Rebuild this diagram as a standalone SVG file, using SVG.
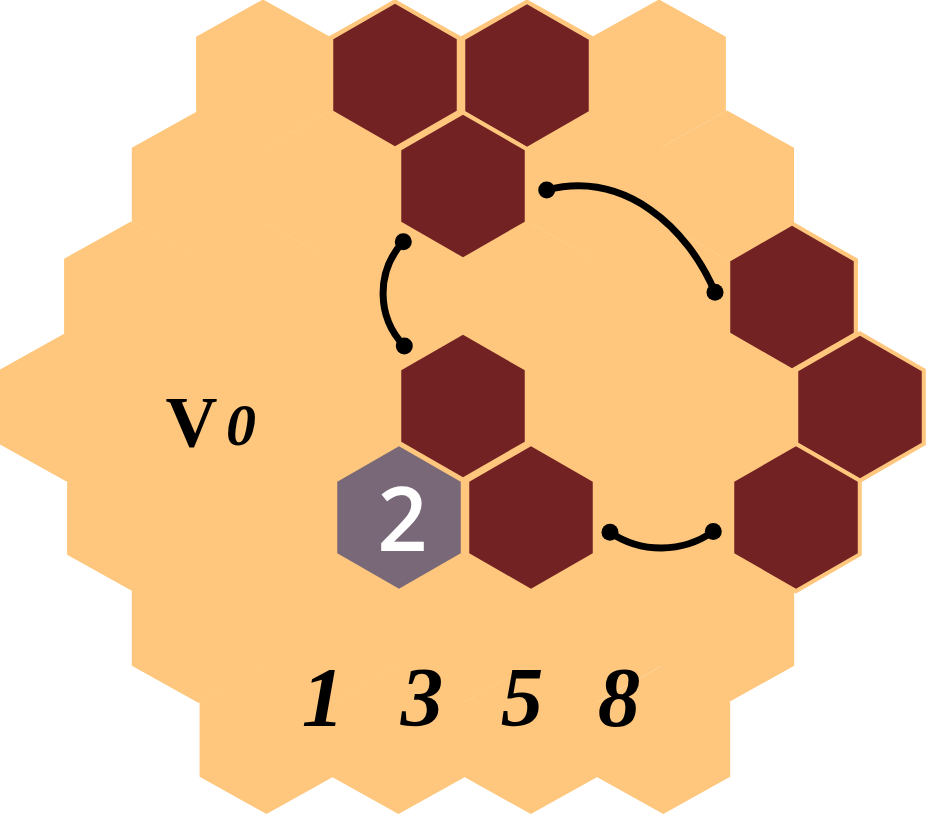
<svg xmlns="http://www.w3.org/2000/svg" xmlns:xlink="http://www.w3.org/1999/xlink" width="926" height="814" viewBox="0 0 926 814">
  <defs>
    <polygon id="bg" points="0,-73.5 66,-36.8 66,36.8 0,73.5 -66,36.8 -66,-36.8"/>
    <polygon id="hx" points="0,-71.3 61.75,-35.65 61.75,35.65 0,71.3 -61.75,35.65 -61.75,-35.65"/>
    <style>
      .cell { fill: #FEC77D; stroke: #FEC77D; stroke-width: 1.8; stroke-linejoin: miter; }
      .dark { fill: #732224; stroke: #FEC77D; stroke-width: 8; paint-order: stroke; stroke-linejoin: miter; }
      .grey { fill: #796878; stroke: #FEC77D; stroke-width: 8; paint-order: stroke; stroke-linejoin: miter; }
      .link { fill: none; stroke: #000; stroke-width: 7; stroke-linecap: round; }
      .dot { fill: #000; }
      .serif { font-family: "Liberation Serif", "Times New Roman", serif; fill: #000; }
      .num { font-size: 85px; font-weight: bold; font-style: italic; text-anchor: middle; }
      .lbl2 { font-family: "Open Sans", "Noto Sans", sans-serif; font-size: 88px; font-weight: 600; fill: #fff; text-anchor: middle; }
    </style>
  </defs>

  <g id="board">
    <!-- row 0 -->
    <use xlink:href="#bg" href="#bg" class="cell" x="263" y="74"/>
    <use xlink:href="#bg" href="#bg" class="cell" x="395" y="74"/>
    <use xlink:href="#bg" href="#bg" class="cell" x="527" y="74"/>
    <use xlink:href="#bg" href="#bg" class="cell" x="659" y="74"/>
    <!-- row 1 -->
    <use xlink:href="#bg" href="#bg" class="cell" x="198.7" y="185"/>
    <use xlink:href="#bg" href="#bg" class="cell" x="330.8" y="185"/>
    <use xlink:href="#bg" href="#bg" class="cell" x="462.9" y="185"/>
    <use xlink:href="#bg" href="#bg" class="cell" x="595" y="185"/>
    <use xlink:href="#bg" href="#bg" class="cell" x="727.1" y="185"/>
    <!-- row 2 -->
    <use xlink:href="#bg" href="#bg" class="cell" x="131" y="296"/>
    <use xlink:href="#bg" href="#bg" class="cell" x="263" y="296"/>
    <use xlink:href="#bg" href="#bg" class="cell" x="395" y="296"/>
    <use xlink:href="#bg" href="#bg" class="cell" x="527" y="296"/>
    <use xlink:href="#bg" href="#bg" class="cell" x="659" y="296"/>
    <use xlink:href="#bg" href="#bg" class="cell" x="791" y="296"/>
    <!-- row 3 -->
    <use xlink:href="#bg" href="#bg" class="cell" x="66.4" y="407"/>
    <use xlink:href="#bg" href="#bg" class="cell" x="198.4" y="407"/>
    <use xlink:href="#bg" href="#bg" class="cell" x="330.4" y="407"/>
    <use xlink:href="#bg" href="#bg" class="cell" x="462.4" y="407"/>
    <use xlink:href="#bg" href="#bg" class="cell" x="594.4" y="407"/>
    <use xlink:href="#bg" href="#bg" class="cell" x="726.4" y="407"/>
    <use xlink:href="#bg" href="#bg" class="cell" x="858.4" y="407"/>
    <!-- row 4 -->
    <use xlink:href="#bg" href="#bg" class="cell" x="134" y="517.5"/>
    <use xlink:href="#bg" href="#bg" class="cell" x="266" y="517.5"/>
    <use xlink:href="#bg" href="#bg" class="cell" x="398" y="517.5"/>
    <use xlink:href="#bg" href="#bg" class="cell" x="530" y="517.5"/>
    <use xlink:href="#bg" href="#bg" class="cell" x="662" y="517.5"/>
    <use xlink:href="#bg" href="#bg" class="cell" x="794" y="517.5"/>
    <!-- row 5 -->
    <use xlink:href="#bg" href="#bg" class="cell" x="198.7" y="628.5"/>
    <use xlink:href="#bg" href="#bg" class="cell" x="330.8" y="628.5"/>
    <use xlink:href="#bg" href="#bg" class="cell" x="462.9" y="628.5"/>
    <use xlink:href="#bg" href="#bg" class="cell" x="595" y="628.5"/>
    <use xlink:href="#bg" href="#bg" class="cell" x="727.3" y="628.5"/>
    <!-- row 6 -->
    <use xlink:href="#bg" href="#bg" class="cell" x="266.5" y="739.5"/>
    <use xlink:href="#bg" href="#bg" class="cell" x="398.5" y="739.5"/>
    <use xlink:href="#bg" href="#bg" class="cell" x="530.8" y="739.5"/>
    <use xlink:href="#bg" href="#bg" class="cell" x="663.3" y="739.5"/>
  </g>

  <g id="hex-a"><use xlink:href="#hx" href="#hx" class="dark" x="395" y="75"/></g>
  <g id="hex-b"><use xlink:href="#hx" href="#hx" class="dark" x="527" y="75.5"/></g>
  <g id="hex-c"><use xlink:href="#hx" href="#hx" class="dark" x="463" y="186"/></g>
  <g id="hex-d"><use xlink:href="#hx" href="#hx" class="dark" x="463" y="406"/></g>
  <g id="hex-f"><use xlink:href="#hx" href="#hx" class="dark" x="531" y="517.5"/></g>
  <g id="hex-r1"><use xlink:href="#hx" href="#hx" class="dark" x="792" y="297"/></g>
  <g id="hex-r2"><use xlink:href="#hx" href="#hx" class="dark" x="860" y="407"/></g>
  <g id="hex-r3"><use xlink:href="#hx" href="#hx" class="dark" x="796" y="517.5"/></g>
  <g id="hex-2">
    <use xlink:href="#hx" href="#hx" class="grey" x="399" y="517.5"/>
    <text class="lbl2" x="402.5" y="551">2</text>
  </g>

  <g id="connectors">
    <path class="link" d="M403.3,241.7 A76,76 0 0 0 404.3,346"/>
    <circle class="dot" cx="403.3" cy="241.7" r="8.5"/>
    <circle class="dot" cx="404.3" cy="346" r="8.5"/>
    <path class="link" d="M546.7,190 C625,170 688,228 715,292.3"/>
    <circle class="dot" cx="546.7" cy="190" r="8.5"/>
    <circle class="dot" cx="715" cy="292.3" r="8.5"/>
    <path class="link" d="M610,532.3 A91,91 0 0 0 713.3,531.5"/>
    <circle class="dot" cx="610" cy="532.3" r="8.5"/>
    <circle class="dot" cx="713.3" cy="531.5" r="8.5"/>
  </g>

  <g id="label-v0">
    <text class="serif" x="165.5" y="446" font-size="72" font-weight="bold">V</text>
    <text class="serif" x="226" y="445" font-size="60" font-style="italic" font-weight="bold">0</text>
  </g>

  <g id="label-numbers">
    <text class="serif num" x="323" y="726">1</text>
    <text class="serif num" x="422" y="726">3</text>
    <text class="serif num" x="522" y="726">5</text>
    <text class="serif num" x="619" y="726">8</text>
  </g>
</svg>
